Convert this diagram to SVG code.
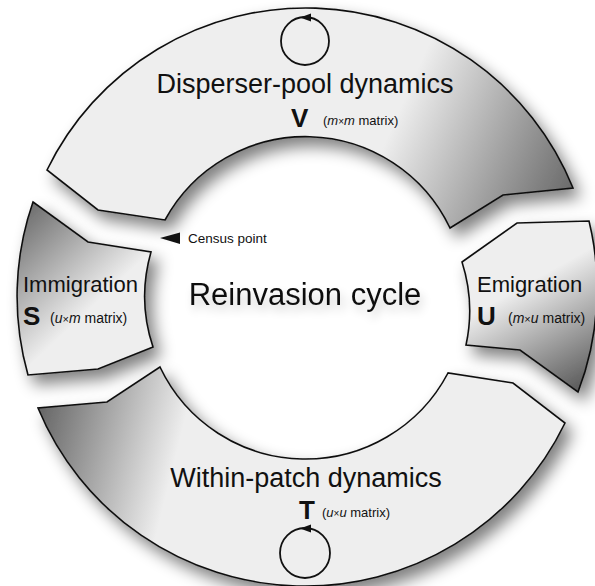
<svg xmlns="http://www.w3.org/2000/svg" width="595" height="586" viewBox="0 0 595 586">
<style>
.piece{stroke:#111;stroke-width:1.6;stroke-linejoin:miter}
.big{font-family:"Liberation Sans",Arial,sans-serif;fill:#111}
.bold{font-family:"Liberation Sans",Arial,sans-serif;font-weight:bold;fill:#111}
.small{font-family:"Liberation Sans",Arial,sans-serif;fill:#111}
.loop{fill:none;stroke:#111;stroke-width:1.8}
</style>
<defs>
<filter id="sh" x="-20%" y="-20%" width="150%" height="150%">
<feGaussianBlur in="SourceAlpha" stdDeviation="8"/>
<feOffset dx="7" dy="9"/>
<feComponentTransfer><feFuncA type="linear" slope="0.5"/></feComponentTransfer>
<feMerge><feMergeNode/><feMergeNode in="SourceGraphic"/></feMerge>
</filter>
<filter id="tsh" x="-20%" y="-50%" width="140%" height="200%">
<feGaussianBlur in="SourceAlpha" stdDeviation="5"/>
<feOffset dx="3" dy="6"/>
<feComponentTransfer><feFuncA type="linear" slope="0.2"/></feComponentTransfer>
<feMerge><feMergeNode/><feMergeNode in="SourceGraphic"/></feMerge>
</filter>
<linearGradient id="gV" gradientUnits="userSpaceOnUse" x1="395" y1="120" x2="575" y2="200">
<stop offset="0" stop-color="#eeeeee"/><stop offset="1" stop-color="#666666"/>
</linearGradient>
<linearGradient id="gS" gradientUnits="userSpaceOnUse" x1="30" y1="205" x2="110" y2="290">
<stop offset="0" stop-color="#6e6e6e"/><stop offset="1" stop-color="#eeeeee"/>
</linearGradient>
<linearGradient id="gT" gradientUnits="userSpaceOnUse" x1="40" y1="405" x2="180" y2="440">
<stop offset="0" stop-color="#666666"/><stop offset="1" stop-color="#eeeeee"/>
</linearGradient>
<linearGradient id="gU" gradientUnits="userSpaceOnUse" x1="525" y1="285" x2="585" y2="392">
<stop offset="0" stop-color="#eeeeee"/><stop offset="1" stop-color="#555555"/>
</linearGradient>
</defs>
<rect width="595" height="586" fill="#ffffff"/>

<g id="V">
<path class="piece" filter="url(#sh)" fill="url(#gV)" d="M47,170 A288,288 0 0 1 573,188 L503,195 L450,228 A160,160 0 0 0 165,220 L98,210 Z"/>
<text class="big" x="305" y="93" font-size="27" text-anchor="middle">Disperser-pool dynamics</text>
<text class="bold" x="291" y="127" font-size="26">V</text>
<text class="small" x="323" y="125" font-size="13">(<tspan font-style="italic">m</tspan><tspan font-size="10">×</tspan><tspan font-style="italic">m</tspan> matrix)</text>
</g>

<g id="S">
<path class="piece" filter="url(#sh)" fill="url(#gS)" d="M33,202 L88,242 L151,252 A160,160 0 0 0 153,347 L98,369 L28,375 A288,288 0 0 1 33,202 Z"/>
<text class="big" x="23" y="292" font-size="22">Immigration</text>
<text class="bold" x="23" y="325" font-size="26">S</text>
<text class="small" x="50" y="323" font-size="14">(<tspan font-style="italic">u</tspan><tspan font-size="11">×</tspan><tspan font-style="italic">m</tspan> matrix)</text>
</g>

<g id="T">
<path class="piece" filter="url(#sh)" fill="url(#gT)" d="M160,367 A161,161 0 0 0 448,373 L513,383 L565,423 A289,289 0 0 1 38,408 L107,402 Z"/>
<text class="big" x="306" y="487" font-size="27" text-anchor="middle">Within-patch dynamics</text>
<text class="bold" x="299" y="519" font-size="26">T</text>
<text class="small" x="322" y="517" font-size="13">(<tspan font-style="italic">u</tspan><tspan font-size="10">×</tspan><tspan font-style="italic">u</tspan> matrix)</text>
</g>

<g id="U">
<path class="piece" filter="url(#sh)" fill="url(#gU)" d="M462,262 L517,223 L589,221 A288,288 0 0 1 578,392 L520,350 L466,345 A160,160 0 0 0 462,262 Z"/>
<text class="big" x="477" y="292" font-size="22">Emigration</text>
<text class="bold" x="477" y="325" font-size="26">U</text>
<text class="small" x="508" y="323" font-size="14">(<tspan font-style="italic">m</tspan><tspan font-size="11">×</tspan><tspan font-style="italic">u</tspan> matrix)</text>
</g>

<g id="center">
<text class="big" x="305" y="305" font-size="31" text-anchor="middle" filter="url(#tsh)">Reinvasion cycle</text>
</g>

<g id="census">
<polygon points="160,238 180,232.5 180,244" fill="#111"/>
<text class="small" x="188" y="243" font-size="13.5">Census point</text>
</g>

<g id="connectors">
<circle class="loop" cx="305" cy="41" r="24"/>
<polygon points="300,17.5 311,13.5 311,21.5" fill="#111"/>
<circle class="loop" cx="305" cy="553" r="25"/>
<polygon points="300,528.5 311,524.5 311,532.5" fill="#111"/>
</g>
</svg>
